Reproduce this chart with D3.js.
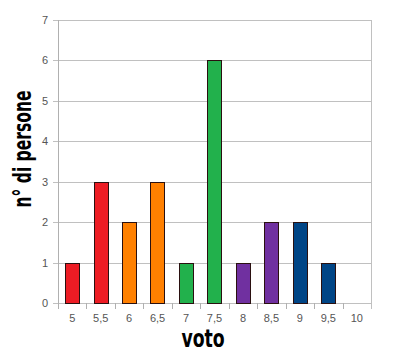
<!DOCTYPE html>
<html><head><meta charset="utf-8">
<script src="https://cdn.jsdelivr.net/npm/d3@7"></script>
<style>
body{margin:0;background:#fff;}
svg{display:block;}
</style></head>
<body>
<svg id="c" width="400" height="356"></svg>
<script>
const categories = ["5","5,5","6","6,5","7","7,5","8","8,5","9","9,5","10"];
const values = [1,3,2,3,1,6,1,2,2,1,0];
const barColors = ["#ED1C24","#ED1C24","#FF8000","#FF8000","#22B14C","#22B14C","#7030A0","#7030A0","#004586","#004586","#004586"];
const yTicks = [0,1,2,3,4,5,6,7];
const xTitle = "voto";
const yTitle = "n° di persone";

const svg = d3.select("#c");
const m = {left:58, right:371, top:20, bottom:303};
const x = d3.scaleBand().domain(categories).range([m.left, m.right]).paddingInner(0).paddingOuter(0);
const y = d3.scaleLinear().domain([0,7]).range([m.bottom, m.top]);

// gridlines
svg.append("g").selectAll("line").data(yTicks).join("line")
  .attr("x1", m.left - 5).attr("x2", m.right)
  .attr("y1", d => Math.round(y(d)) + 0.5).attr("y2", d => Math.round(y(d)) + 0.5)
  .attr("stroke", "#c0c0c0").attr("stroke-width", 1);

// right border
svg.append("line").attr("x1", m.right + 0.5).attr("x2", m.right + 0.5)
  .attr("y1", m.top).attr("y2", m.bottom + 6).attr("stroke", "#c0c0c0");
// left axis
svg.append("line").attr("x1", m.left + 0.5).attr("x2", m.left + 0.5)
  .attr("y1", m.top).attr("y2", m.bottom + 6).attr("stroke", "#b0b0b0");

// x category ticks (band boundaries)
const bounds = categories.slice(1).map(c => x(c));
svg.append("g").selectAll("line").data(bounds).join("line")
  .attr("x1", d => Math.round(d) + 0.5).attr("x2", d => Math.round(d) + 0.5)
  .attr("y1", m.bottom).attr("y2", m.bottom + 6)
  .attr("stroke", "#b0b0b0");

// bars
const bw = x.bandwidth() * 0.5;
svg.append("g").selectAll("rect").data(categories.map((c,i)=>({c, v:values[i], col:barColors[i]})).filter(d=>d.v>0)).join("rect")
  .attr("x", d => Math.round(x(d.c) + (x.bandwidth() - bw)/2) + 0.5)
  .attr("y", d => Math.round(y(d.v)) + 0.5)
  .attr("width", Math.round(bw))
  .attr("height", d => Math.round(y(0)) - Math.round(y(d.v)))
  .attr("fill", d => d.col)
  .attr("stroke", "#2a1010").attr("stroke-width", 1);

// y tick labels
svg.append("g").selectAll("text").data(yTicks).join("text")
  .attr("x", 48).attr("y", d => y(d) + 4)
  .attr("text-anchor", "end")
  .attr("font-family", "'Liberation Sans', Arial, sans-serif")
  .attr("font-size", 11).attr("fill", "#555")
  .text(d => d);

// x tick labels
svg.append("g").selectAll("text").data(categories).join("text")
  .attr("x", d => x(d) + x.bandwidth()/2).attr("y", 322)
  .attr("text-anchor", "middle")
  .attr("font-family", "'Liberation Sans', Arial, sans-serif")
  .attr("font-size", 11).attr("fill", "#555")
  .text(d => d);

// axis titles
svg.append("text").attr("transform", "translate(203,347) scale(0.8,1)")
  .attr("text-anchor", "middle")
  .attr("font-family", "'DejaVu Sans Condensed', 'Liberation Sans Narrow', sans-serif")
  .attr("font-weight", "bold").attr("font-size", 24).attr("fill", "#000")
  .text(xTitle);

svg.append("text").attr("transform", "translate(31,149) rotate(-90) scale(0.72,1)")
  .attr("text-anchor", "middle")
  .attr("font-family", "'DejaVu Sans Condensed', 'Liberation Sans Narrow', sans-serif")
  .attr("font-weight", "bold").attr("font-size", 24).attr("fill", "#000")
  .text(yTitle);
</script>
</body></html>
